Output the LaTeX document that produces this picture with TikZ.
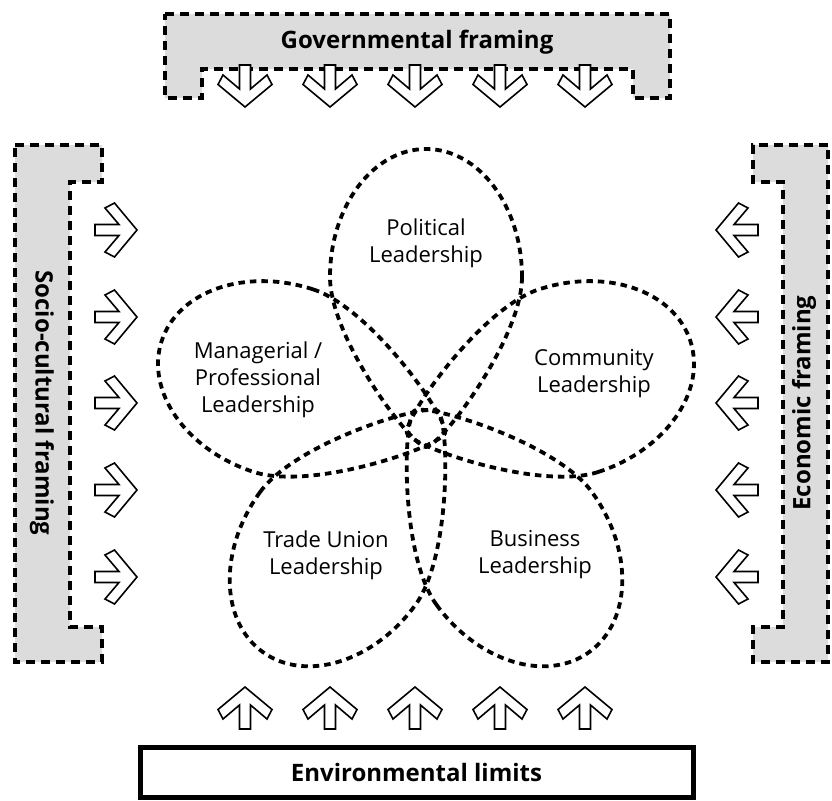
\documentclass[tikz,border=0pt]{standalone}
\usepackage{fontspec}
\setmainfont{Open Sans}
\definecolor{framegray}{HTML}{DCDCDC}
\tikzset{
  frameshape/.style={draw=black, fill=framegray, line width=3.5pt, dash pattern=on 9pt off 6pt},
  eggline/.style={draw=black, line width=3.8pt, dash pattern=on 6.5pt off 5pt},
  arrowline/.style={draw=black, fill=white, line width=1.6pt, line join=miter},
  lbl/.style={font=\fontsize{22}{27}\selectfont, align=center, text=black},
  titlefont/.style={font=\fontsize{24}{28}\selectfont\bfseries, text=black},
  fatarrow/.pic={\draw[arrowline] (0,-21) -- (27,1.5) -- (22,11) -- (5.5,-3) -- (5.5,21) -- (-5.5,21) -- (-5.5,-3) -- (-22,11) -- (-27,1.5) -- cycle;},
  eggshape/.pic={\draw[eggline] (96,-150) .. controls (96,-220.7) and (53,-278) .. (0,-278)
      .. controls (-53,-278) and (-96,-220.7) .. (-96,-150)
      .. controls (-96,-88) and (-14,20) .. (0,20)
      .. controls (14,20) and (96,-88) .. (96,-150) -- cycle;}
}
\begin{document}
\begin{tikzpicture}[x=1pt,y=-1pt]
\useasboundingbox (0,0) rectangle (832,800);
% frames
\path[frameshape] (165,14) -- (670,14) -- (670,98) -- (633,98) -- (633,69) -- (202,69) -- (202,98) -- (165,98) -- cycle;
\path[frameshape] (15,145) -- (102,145) -- (102,182) -- (70,182) -- (70,627) -- (102,627) -- (102,662) -- (15,662) -- cycle;
\path[frameshape] (828,145) -- (753,145) -- (753,182) -- (783,182) -- (783,627) -- (753,627) -- (753,662) -- (828,662) -- cycle;
\node[titlefont] (gov) at (417,42) {Governmental framing};
\node[titlefont, rotate=-90] (soc) at (42,403) {Socio-cultural framing};
\node[titlefont, rotate=90] (eco) at (804,403) {Economic framing};
\node[draw=black, line width=5pt, minimum width=553pt, minimum height=50pt, titlefont] (env) at (416.5,772) {Environmental limits};
% arrows
\foreach \x in {245,330,415,500,585} {
  \pic[rotate=180] at (\x,86) {fatarrow};
  \pic at (\x,708) {fatarrow};
}
\foreach \y in {230,317,403,490,577} {
  \pic[rotate=-90] at (116,\y) {fatarrow};
  \pic[rotate=90] at (737,\y) {fatarrow};
}
% eggs
\begin{scope}[shift={(426,427)}]
  \pic at (0,0) {eggshape};
  \pic[rotate=72] at (0,0) {eggshape};
  \pic[rotate=-72] at (0,0) {eggshape};
  \pic[rotate=144] at (0,0) {eggshape};
  \pic[rotate=-144] at (0,0) {eggshape};
\end{scope}
\node[lbl] (pol) at (426,243) {Political\\Leadership};
\node[lbl] (man) at (258,380) {Managerial /\\Professional\\Leadership};
\node[lbl] (com) at (594,374) {Community\\Leadership};
\node[lbl] (tra) at (326,555) {Trade Union\\Leadership};
\node[lbl] (bus) at (535,555) {Business\\Leadership};
\end{tikzpicture}
\end{document}
